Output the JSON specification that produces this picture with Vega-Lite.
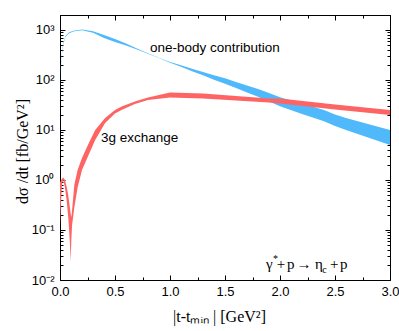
{
  "$schema": "https://vega.github.io/schema/vega-lite/v6.json",
  "width": 330,
  "height": 265,
  "autosize": {"type": "none"},
  "padding": {"left": 60, "top": 15, "right": 9, "bottom": 51},
  "background": "white",
  "view": {"stroke": "black", "strokeWidth": 1},
  "config": {
    "axis": {
      "domainColor": "black",
      "tickColor": "black",
      "labelColor": "black",
      "labelFont": "Liberation Sans",
      "labelFontSize": 13,
      "grid": false,
      "titleColor": "black",
      "titleFont": "Liberation Serif",
      "titleFontSize": 16,
      "titleFontWeight": "normal"
    }
  },
  "datasets": {
    "blue": [
      {"t": 0, "lo": 35.5, "hi": 41.7},
      {"t": 0.005, "lo": 126, "hi": 145},
      {"t": 0.01, "lo": 209, "hi": 229},
      {"t": 0.02, "lo": 363, "hi": 398},
      {"t": 0.03, "lo": 525, "hi": 562},
      {"t": 0.05, "lo": 724, "hi": 759},
      {"t": 0.08, "lo": 851, "hi": 891},
      {"t": 0.12, "lo": 933, "hi": 966},
      {"t": 0.2, "lo": 989, "hi": 1023},
      {"t": 0.3, "lo": 881, "hi": 944},
      {"t": 0.4, "lo": 692, "hi": 794},
      {"t": 0.5, "lo": 575, "hi": 661},
      {"t": 0.6, "lo": 490, "hi": 537},
      {"t": 0.7, "lo": 407, "hi": 427},
      {"t": 0.8, "lo": 335, "hi": 343},
      {"t": 0.9, "lo": 274, "hi": 279},
      {"t": 1.0, "lo": 221, "hi": 228},
      {"t": 1.1, "lo": 184, "hi": 197},
      {"t": 1.2, "lo": 150, "hi": 168},
      {"t": 1.3, "lo": 125, "hi": 145},
      {"t": 1.4, "lo": 101, "hi": 124},
      {"t": 1.5, "lo": 84, "hi": 108},
      {"t": 1.6, "lo": 69, "hi": 91},
      {"t": 1.7, "lo": 56, "hi": 78},
      {"t": 1.8, "lo": 46, "hi": 66},
      {"t": 1.9, "lo": 37, "hi": 55},
      {"t": 2.0, "lo": 30, "hi": 45},
      {"t": 2.2, "lo": 21, "hi": 34},
      {"t": 2.4, "lo": 15, "hi": 25},
      {"t": 2.5, "lo": 12, "hi": 20.4},
      {"t": 2.6, "lo": 10, "hi": 17.4},
      {"t": 2.8, "lo": 7.1, "hi": 13.2},
      {"t": 3.0, "lo": 5.0, "hi": 10}
    ],
    "red": [
      {"t": 0, "lo": 0.126, "hi": 0.89},
      {"t": 0.01, "lo": 0.4, "hi": 1.0},
      {"t": 0.02, "lo": 0.89, "hi": 1.07},
      {"t": 0.03, "lo": 1.0, "hi": 1.12},
      {"t": 0.045, "lo": 0.71, "hi": 1.0},
      {"t": 0.06, "lo": 0.4, "hi": 0.74},
      {"t": 0.075, "lo": 0.18, "hi": 0.5},
      {"t": 0.09, "lo": 0.056, "hi": 0.28},
      {"t": 0.097, "lo": 0.023, "hi": 0.21},
      {"t": 0.103, "lo": 0.063, "hi": 0.18},
      {"t": 0.11, "lo": 0.126, "hi": 0.25},
      {"t": 0.13, "lo": 0.28, "hi": 0.79},
      {"t": 0.16, "lo": 0.71, "hi": 1.58},
      {"t": 0.2, "lo": 1.58, "hi": 2.75},
      {"t": 0.26, "lo": 3.16, "hi": 5.37},
      {"t": 0.32, "lo": 6.3, "hi": 10},
      {"t": 0.41, "lo": 13.8, "hi": 17.4},
      {"t": 0.5, "lo": 21.4, "hi": 25.1},
      {"t": 0.56, "lo": 25.1, "hi": 29.5},
      {"t": 0.68, "lo": 33.1, "hi": 37.2},
      {"t": 0.8, "lo": 39.8, "hi": 44.7},
      {"t": 1.0, "lo": 44.7, "hi": 56.2},
      {"t": 1.3, "lo": 42.7, "hi": 53.7},
      {"t": 1.6, "lo": 38.9, "hi": 47.9},
      {"t": 1.9, "lo": 35.5, "hi": 42.7},
      {"t": 2.0, "lo": 33.9, "hi": 42.7},
      {"t": 2.5, "lo": 25.7, "hi": 32.4},
      {"t": 3.0, "lo": 20, "hi": 25.1}
    ],
    "labels": [
      {"t": 0.818, "v": 437, "s": "one-body contribution"},
      {"t": 0.373, "v": 6.9, "s": "3g exchange"}
    ],
    "reaction": [
      {"t": 1.873, "v": 0.0166, "s": "γ"},
      {"t": 1.970, "v": 0.0166, "s": "+"},
      {"t": 2.064, "v": 0.0166, "s": "p"},
      {"t": 2.15, "v": 0.0166, "s": "→"},
      {"t": 2.318, "v": 0.0166, "s": "η"},
      {"t": 2.455, "v": 0.0166, "s": "+"},
      {"t": 2.545, "v": 0.0166, "s": "p"}
    ],
    "scripts": [
      {"t": 1.936, "v": 0.0229, "s": "*"},
      {"t": 2.385, "v": 0.0138, "s": "c"}
    ]
  },
  "resolve": {
    "scale": {"x": "shared", "y": "shared"},
    "axis": {"x": "independent", "y": "independent"}
  },
  "layer": [
    {
      "data": {"name": "blue"},
      "mark": {"type": "area", "color": "#4FB9FC", "opacity": 1},
      "encoding": {
        "x": {
          "field": "t", "type": "quantitative",
          "scale": {"domain": [0, 3], "nice": false, "zero": false},
          "axis": {
            "orient": "bottom",
            "values": [0, 0.5, 1, 1.5, 2, 2.5, 3],
            "format": ".1f",
            "tickSize": -5,
            "labelPadding": 10,
            "labelFlush": false,
            "title": "|t-tₘᵢₙ | [GeV²]",
            "titleX": 159,
            "titleY": 36,
            "titleBaseline": "middle"
          }
        },
        "y": {
          "field": "lo", "type": "quantitative",
          "scale": {"type": "log", "domain": [0.01, 1995], "nice": false},
          "axis": {
            "orient": "left",
            "values": [0.01, 0.1, 1, 10, 100, 1000],
            "labelExpr": "'10' + ['⁻²','⁻¹','⁰','¹','²','³'][round(log(datum.value)/LN10)+2]",
            "tickSize": -5,
            "labelPadding": 11,
            "labelFlush": false,
            "title": "dσ /dt [fb/GeV²]",
            "titleX": -38,
            "titleY": 136,
            "titleBaseline": "middle",
            "titleAngle": -90
          }
        },
        "y2": {"field": "hi"}
      }
    },
    {
      "data": {"name": "red"},
      "mark": {"type": "area", "color": "#FF6464", "opacity": 1},
      "encoding": {
        "x": {
          "field": "t", "type": "quantitative",
          "axis": {
            "orient": "top",
            "values": [0, 0.5, 1, 1.5, 2, 2.5, 3],
            "tickSize": -5,
            "labels": false,
            "title": null
          }
        },
        "y": {
          "field": "lo", "type": "quantitative",
          "axis": {
            "orient": "right",
            "values": [0.01, 0.1, 1, 10, 100, 1000],
            "tickSize": -5,
            "labels": false,
            "title": null
          }
        },
        "y2": {"field": "hi"}
      }
    },
    {
      "data": {"name": "labels"},
      "mark": {"type": "text", "align": "left", "baseline": "middle", "font": "Liberation Sans", "fontSize": 13.5, "color": "black"},
      "encoding": {
        "x": {
          "field": "t", "type": "quantitative",
          "axis": {
            "orient": "bottom",
            "values": [0.25, 0.75, 1.25, 1.75, 2.25, 2.75],
            "tickSize": -3,
            "labels": false,
            "domain": false,
            "title": null
          }
        },
        "y": {
          "field": "v", "type": "quantitative",
          "axis": {
            "orient": "left",
            "values": [0.02,0.03,0.04,0.05,0.06,0.07,0.08,0.09,0.2,0.3,0.4,0.5,0.6,0.7,0.8,0.9,2,3,4,5,6,7,8,9,20,30,40,50,60,70,80,90,200,300,400,500,600,700,800,900],
            "tickSize": -3,
            "labels": false,
            "domain": false,
            "title": null
          }
        },
        "text": {"field": "s"}
      }
    },
    {
      "data": {"name": "reaction"},
      "mark": {"type": "text", "align": "left", "baseline": "alphabetic", "font": "Liberation Serif", "fontSize": 15, "color": "black"},
      "encoding": {
        "x": {
          "field": "t", "type": "quantitative",
          "axis": {
            "orient": "top",
            "values": [0.25, 0.75, 1.25, 1.75, 2.25, 2.75],
            "tickSize": -3,
            "labels": false,
            "domain": false,
            "title": null
          }
        },
        "y": {
          "field": "v", "type": "quantitative",
          "axis": {
            "orient": "right",
            "values": [0.02,0.03,0.04,0.05,0.06,0.07,0.08,0.09,0.2,0.3,0.4,0.5,0.6,0.7,0.8,0.9,2,3,4,5,6,7,8,9,20,30,40,50,60,70,80,90,200,300,400,500,600,700,800,900],
            "tickSize": -3,
            "labels": false,
            "domain": false,
            "title": null
          }
        },
        "text": {"field": "s"}
      }
    },
    {
      "data": {"name": "scripts"},
      "mark": {"type": "text", "align": "left", "baseline": "alphabetic", "font": "Liberation Serif", "fontSize": 10, "color": "black"},
      "encoding": {
        "x": {"field": "t", "type": "quantitative", "axis": null},
        "y": {"field": "v", "type": "quantitative", "axis": null},
        "text": {"field": "s"}
      }
    }
  ]
}
